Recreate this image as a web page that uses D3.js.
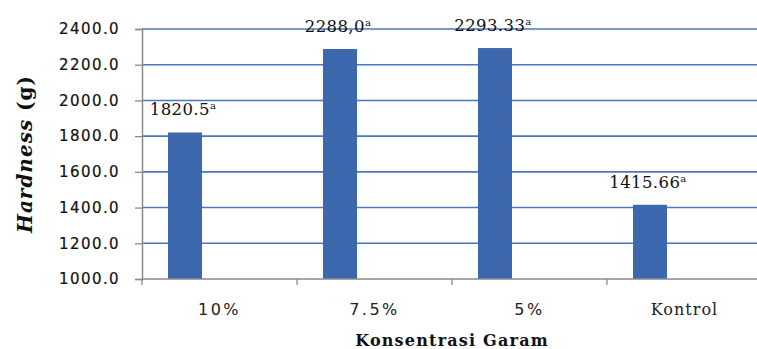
<!DOCTYPE html>
<html>
<head>
<meta charset="utf-8">
<script src="https://cdn.jsdelivr.net/npm/d3@7/dist/d3.min.js"></script>
<style>
  html, body { margin: 0; padding: 0; background: #fff; overflow: hidden; }
  svg { display: block; }
</style>
</head>
<body>
<svg id="chart" width="757" height="349"></svg>
<script>
// Hardness per salt concentration
const categories = ["10%", "7.5%", "5%", "Kontrol"];
const hardness = [1820.5, 2288.0, 2293.33, 1415.66];
const valueLabels = ["1820.5", "2288,0", "2293.33", "1415.66"];
const letters = ["a", "a", "a", "a"];
const yTicks = [1000, 1200, 1400, 1600, 1800, 2000, 2200, 2400];

const svg = d3.select("#chart");
const margin = { left: 142, top: 29, bottom: 279, right: 762 };

const x = d3.scaleBand()
  .domain(categories)
  .range([margin.left, margin.right])
  .paddingInner(0)
  .paddingOuter(0);

const y = d3.scaleLinear()
  .domain([1000, 2400])
  .range([margin.bottom, margin.top]);

const barOffset = 26, barWidth = 34;

// horizontal gridlines
svg.append("g")
  .selectAll("line")
  .data(yTicks.slice(1))
  .join("line")
  .attr("x1", margin.left)
  .attr("x2", margin.right)
  .attr("y1", d => y(d))
  .attr("y2", d => y(d))
  .attr("stroke", "#4a77bf")
  .attr("stroke-width", 1.6);

// bars
svg.append("g")
  .selectAll("rect")
  .data(hardness)
  .join("rect")
  .attr("x", (d, i) => x(categories[i]) + barOffset)
  .attr("width", barWidth)
  .attr("y", d => y(d))
  .attr("height", d => y(1000) - y(d))
  .attr("fill", "#3d68ad");

// y axis
const yAxis = d3.axisLeft(y)
  .tickValues(yTicks)
  .tickFormat(d3.format(".1f"))
  .tickSize(7)
  .tickPadding(15);
const gy = svg.append("g")
  .attr("transform", `translate(${margin.left},0)`)
  .call(yAxis);
gy.select(".domain").attr("stroke", "#8a8a8a").attr("stroke-width", 1.5);
gy.selectAll(".tick line").attr("stroke", "#8a8a8a").attr("stroke-width", 1.3);
gy.selectAll(".tick text")
  .attr("fill", "#111")
  .attr("stroke", "#111")
  .attr("stroke-width", 0.2)
  .style("font-family", "'DejaVu Sans', sans-serif")
  .style("font-size", "15px")
  .style("letter-spacing", "1.4px");

// x axis with ticks at category boundaries
const gx = svg.append("g")
  .attr("transform", `translate(0,${margin.bottom})`);
gx.append("line")
  .attr("x1", margin.left).attr("x2", margin.right)
  .attr("stroke", "#8a8a8a").attr("stroke-width", 1.5);
gx.selectAll("line.tk")
  .data(categories)
  .join("line")
  .attr("class", "tk")
  .attr("x1", d => x(d)).attr("x2", d => x(d))
  .attr("y1", 0).attr("y2", 6)
  .attr("stroke", "#8a8a8a").attr("stroke-width", 1.3);
gx.selectAll("text")
  .data(categories)
  .join("text")
  .attr("x", d => x(d) + x.bandwidth() / 2)
  .attr("y", 36)
  .attr("text-anchor", "middle")
  .attr("fill", "#222")
  .style("font-family", d => d === "Kontrol" ? "'DejaVu Serif', serif" : "'DejaVu Sans', sans-serif")
  .style("font-size", "16px")
  .style("letter-spacing", d => d === "Kontrol" ? "1px" : "2.5px")
  .text(d => d);

// value labels above bars
const lbl = svg.append("g")
  .selectAll("text")
  .data(hardness)
  .join("text")
  .attr("x", (d, i) => x(categories[i]) + barOffset + barWidth / 2 - 2)
  .attr("y", d => y(d) - 17)
  .attr("text-anchor", "middle")
  .attr("fill", "#111")
  .style("font-family", "'DejaVu Serif', serif")
  .style("font-size", "16.5px")
  .style("letter-spacing", "0.4px");
lbl.append("tspan").text((d, i) => valueLabels[i]);
lbl.append("tspan")
  .attr("dy", -6)
  .style("font-size", "10px")
  .text((d, i) => letters[i]);

// axis titles
svg.append("text")
  .attr("x", (margin.left + margin.right) / 2)
  .attr("y", 346)
  .attr("text-anchor", "middle")
  .attr("fill", "#111")
  .style("font-family", "'DejaVu Serif', serif")
  .style("font-weight", "bold")
  .style("font-size", "16px")
  .style("letter-spacing", "1.2px")
  .text("Konsentrasi Garam");

const yt = svg.append("text")
  .attr("transform", `translate(32,${(margin.top + margin.bottom) / 2}) rotate(-90)`)
  .attr("text-anchor", "middle")
  .attr("fill", "#111")
  .style("font-family", "'DejaVu Serif', serif")
  .style("font-weight", "bold")
  .style("font-size", "20px")
  .style("letter-spacing", "1px");
yt.append("tspan").style("font-style", "italic").text("Hardness");
yt.append("tspan").text(" (g)");
</script>
</body>
</html>
